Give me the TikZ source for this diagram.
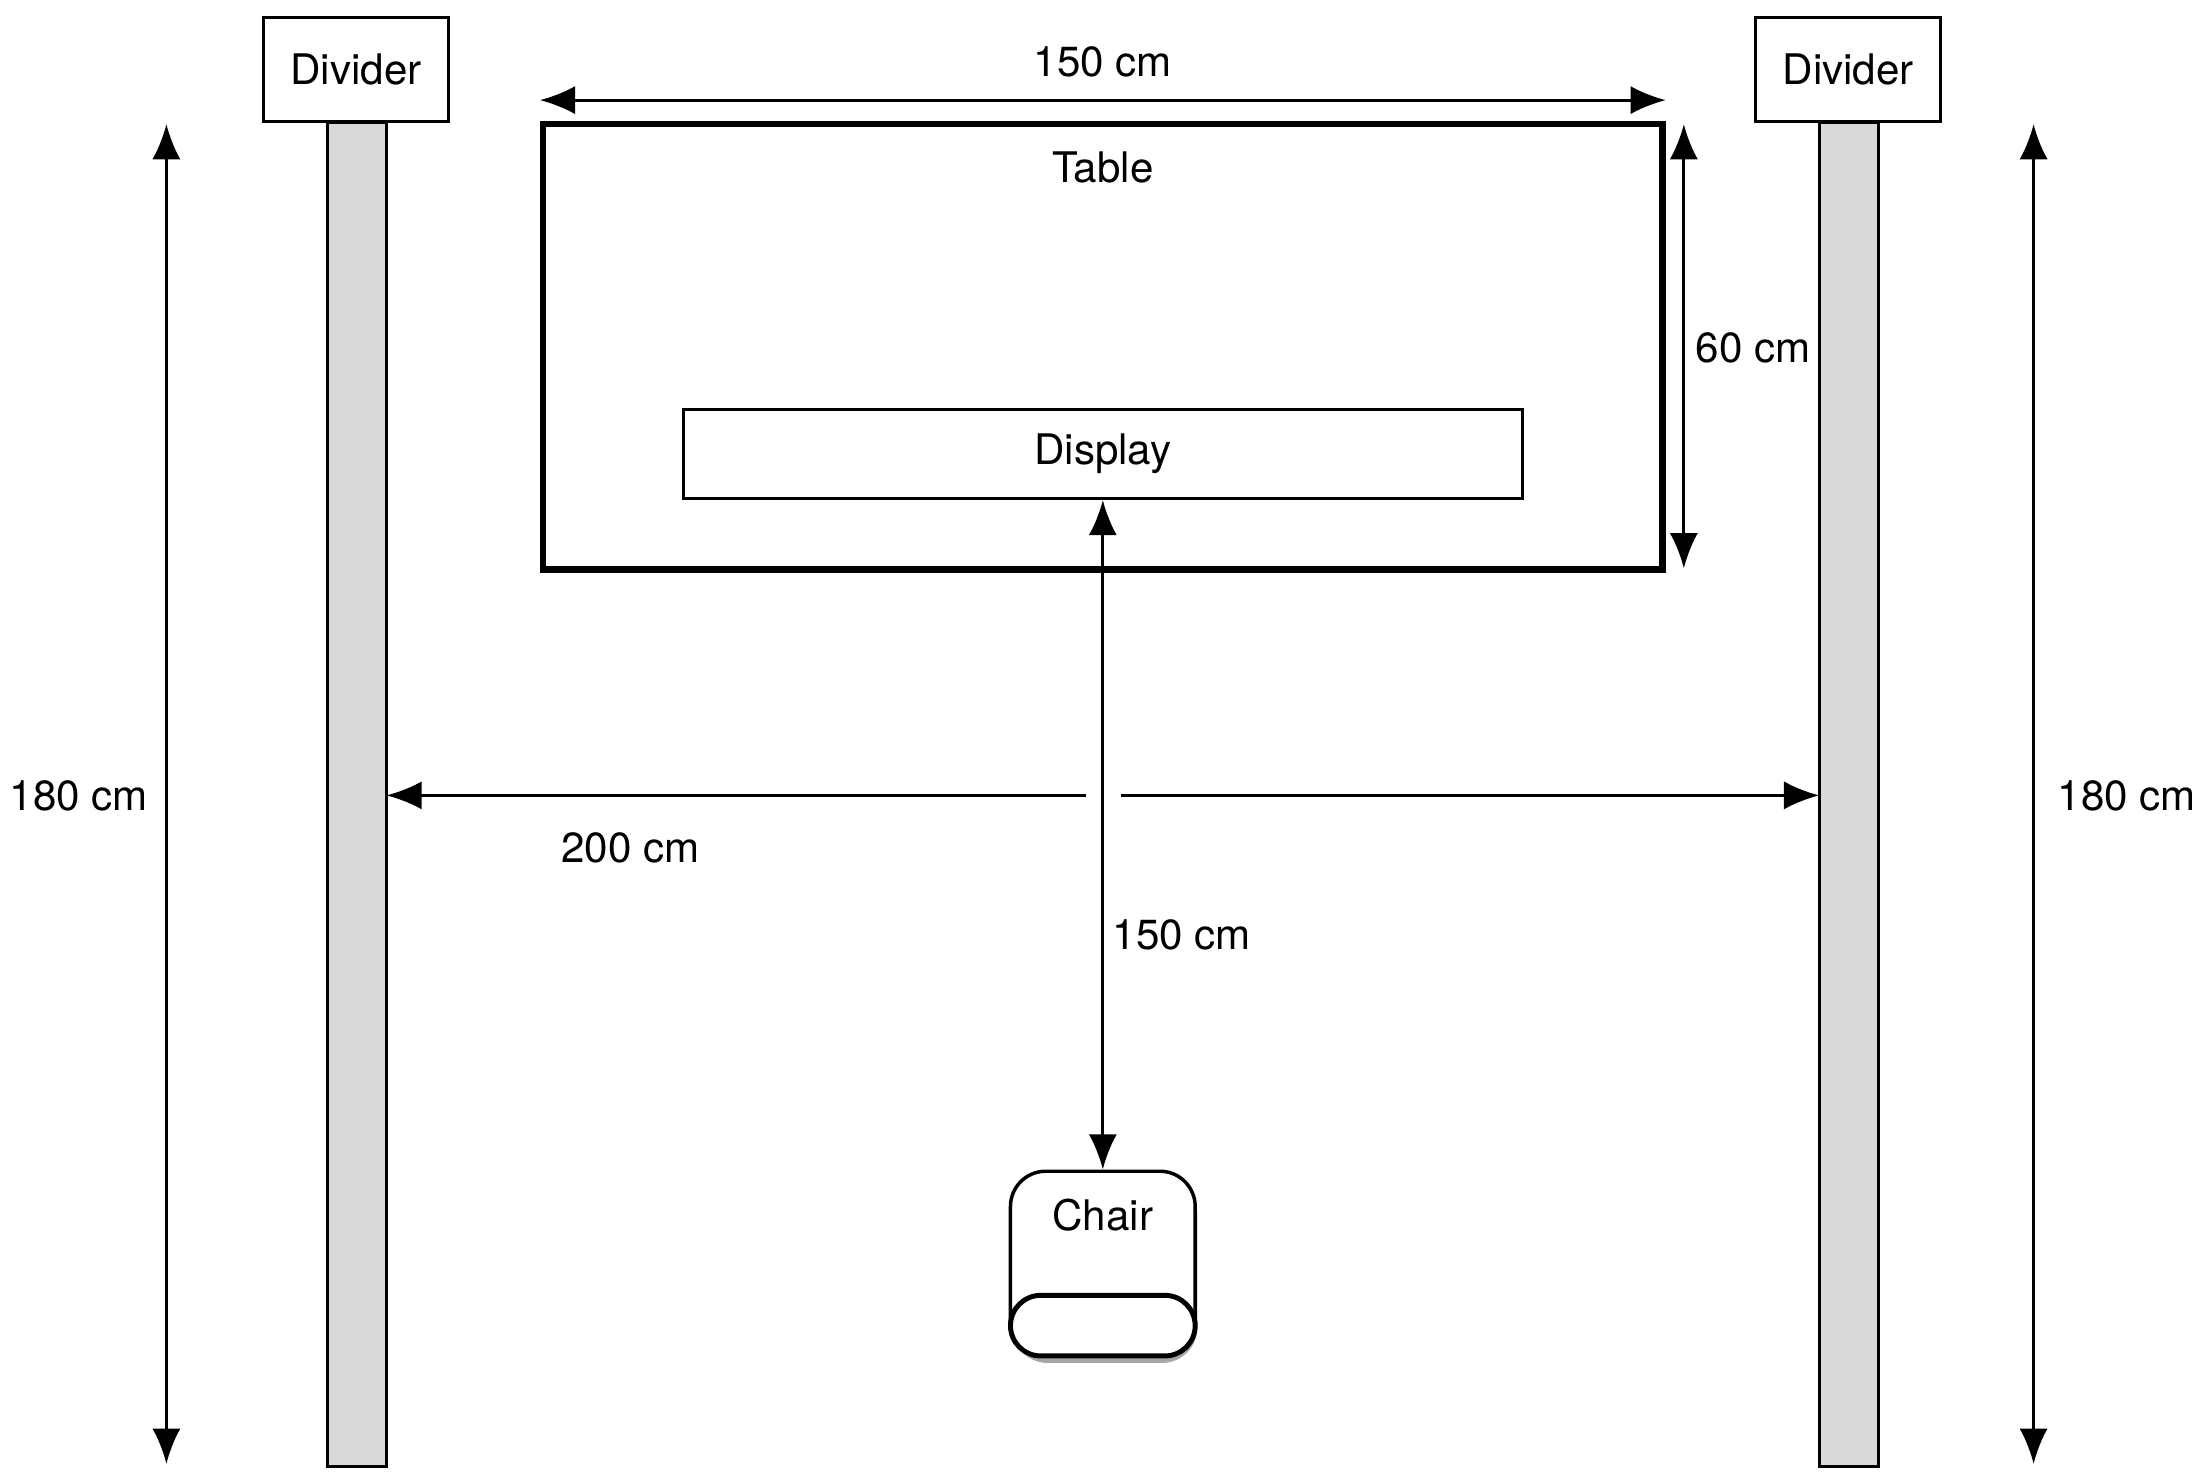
\documentclass[tikz,border=0pt]{standalone}
\usepackage{fontspec}
\setmainfont{TeX Gyre Heros}
\usetikzlibrary{positioning, arrows.meta, shadows}

\begin{document}
\begin{tikzpicture}[
x=0.02cm, y=-0.02cm,
label/.style={font=\fontsize{17}{19}\selectfont, inner sep=0pt},
divider/.style={rectangle, draw=black, fill=white, line width=1.2pt, minimum width=2.62cm, minimum height=1.48cm, font=\fontsize{17}{19}\selectfont},
bar/.style={draw=black, fill=black!15, line width=1.2pt},
dim/.style={<->, >={Latex[length=5mm, width=4mm]}, line width=1.2pt},
arr/.style={->, >={Latex[length=5mm, width=4mm]}, line width=1.2pt}
]
\useasboundingbox (0,0) rectangle (1560,1047);
%Nodes
\node[divider]   (DivL)   at (252.5,49.5)   {Divider};
\node[divider]   (DivR)   at (1310.5,49.5)  {Divider};
\draw[bar] (232,87) rectangle (274,1040);
\draw[bar] (1290,87) rectangle (1332,1040);
\coordinate (BarL) at (274,564);
\coordinate (BarR) at (1290,564);

\node[rectangle, draw=black, line width=2.6pt, minimum width=15.88cm, minimum height=6.32cm] (Table) at (782,246) {};
\node[label]     (TableT)  at (782,119)     {Table};
\node[rectangle, draw=black, line width=1.2pt, minimum width=11.9cm, minimum height=1.26cm, font=\fontsize{17}{19}\selectfont] (Display) at (782,322) {Display};

\node[rectangle, rounded corners=0.5cm, draw=black, fill=white, line width=1.4pt, minimum width=2.62cm, minimum height=2.62cm, drop shadow={opacity=0.7, shadow xshift=0.03cm, shadow yshift=-0.1cm}] (Chair) at (782,896) {};
\node[rectangle, rounded corners=0.43cm, draw=black, fill=white, line width=2pt, minimum width=2.62cm, minimum height=0.86cm] (Seat) at (782,940) {};
\node[label]     (ChairT)  at (782,862)     {Chair};

%Labels
\node[label] (LenT)   at (782,44)   {150 cm};
\node[label] (DepT)   at (1243,247) {60 cm};
\node[label] (HL)     at (56,564)   {180 cm};
\node[label] (HR)     at (1508,564) {180 cm};
\node[label] (WidT)   at (447,601)  {200 cm};
\node[label] (DistT)  at (838,663)  {150 cm};

%Lines
\draw[dim] (Table.north west |- 0,71) -- (Table.north east |- 0,71);
\draw[dim] (1194,88) -- (1194,403);
\draw[dim] (118,88) -- (118,1038);
\draw[dim] (1442,88) -- (1442,1038);
\draw[dim] (Display.south) -- (Chair.north);
\coordinate (GapL) at (770,564);
\coordinate (GapR) at (795,564);
\draw[arr] (GapL) -- (BarL);
\draw[arr] (GapR) -- (BarR);
\end{tikzpicture}
\end{document}
